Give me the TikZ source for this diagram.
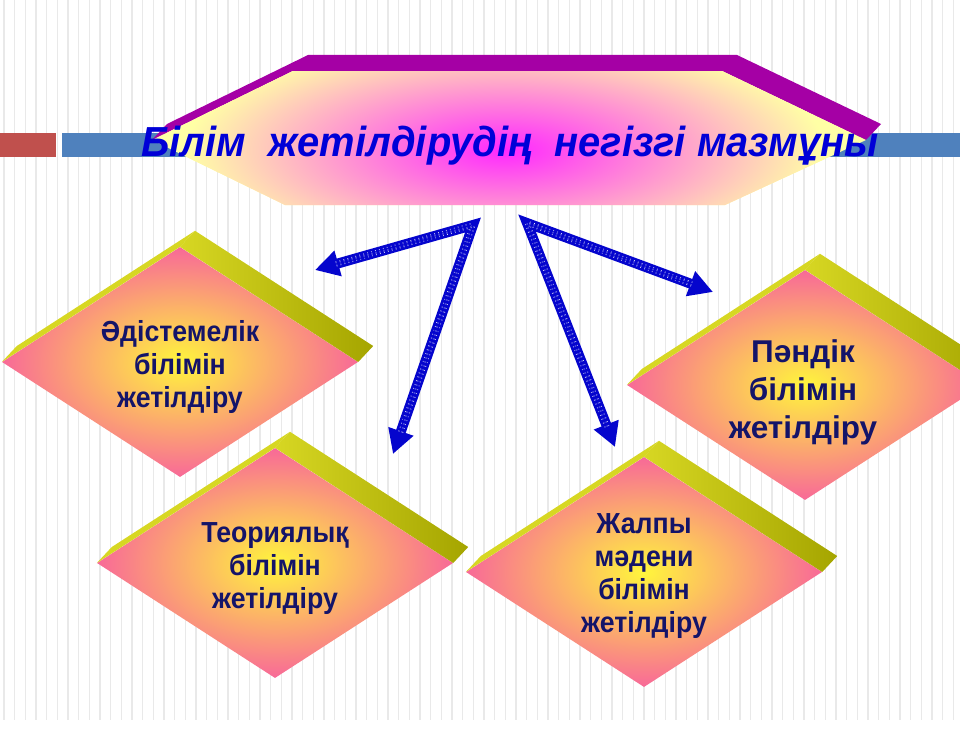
\documentclass[tikz,border=0pt]{standalone}
\usepackage{fontspec}
\setmainfont{Liberation Sans}
\newfontfamily\titlefont[FakeStretch=0.95]{Liberation Sans}
\newfontfamily\boxfont[FakeStretch=0.92]{Liberation Sans}
\usetikzlibrary{shapes.geometric,arrows.meta}

\definecolor{barred}{RGB}{192,80,77}
\definecolor{barblue}{RGB}{79,129,189}
\definecolor{hexyellow}{RGB}{255,255,165}
\definecolor{hexmagenta}{RGB}{255,40,255}
\definecolor{hexpurple}{RGB}{165,0,165}
\definecolor{facepink}{RGB}{248,105,152}
\definecolor{faceyellow}{RGB}{255,245,60}
\definecolor{rimolive}{RGB}{165,165,0}
\definecolor{rimyellow}{RGB}{215,215,35}
\definecolor{arrowblue}{RGB}{5,5,205}
\definecolor{titleblue}{RGB}{0,0,215}
\definecolor{textnavy}{RGB}{20,20,105}
\definecolor{stripegray}{RGB}{233,233,233}

\begin{document}
\begin{tikzpicture}[x=1pt,y=-1pt]
	\tikzstyle{stripe}=[draw=stripegray, line width=1.5pt]
	\tikzstyle{facet}=[diamond, minimum width=356pt, minimum height=230pt, inner sep=0pt, inner color=faceyellow, outer color=facepink]
	\tikzstyle{narrow label}=[text=textnavy, align=center, font=\boxfont\bfseries\fontsize{29}{33}\selectfont]
	\tikzstyle{wide label}=[text=textnavy, align=center, font=\bfseries\fontsize{31.5}{38}\selectfont]
	\tikzstyle{rim left}=[fill=rimyellow]
	\tikzstyle{rim right}=[left color=rimyellow, right color=rimolive]
	\tikzstyle{fat arrow}=[{Triangle[length=24pt,width=25pt]}-{Triangle[length=24pt,width=25pt]}, draw=arrowblue, line width=10pt,
		postaction={draw=white, line width=0.7pt, double=arrowblue, double distance=3.6pt, dash pattern=on 0.7pt off 3.4pt, shorten <=22pt, shorten >=22pt, -}]

	\useasboundingbox (0,0) rectangle (960,752);
	\clip (0,0) rectangle (960,752);

	% striped background
	\foreach \i in {0,...,89}
	\draw[stripe] (\i*10.667+4,0) -- (\i*10.667+4,720);

	% the bar across the slide
	\fill[barred] (0,133) rectangle (56,157);
	\fill[barblue] (62,133) rectangle (960,157);

	% the title plate
	\coordinate (h-w) at (152,140);
	\coordinate (h-nw) at (293,71);
	\coordinate (h-ne) at (722,71);
	\coordinate (h-e) at (866,140);
	\coordinate (h-se) at (725,205);
	\coordinate (h-sw) at (285,205);
	\fill[hexpurple] (h-w) -- (h-nw) -- (h-ne) -- (h-e) -- ([shift={(15,-16)}]h-e)
		-- ([shift={(15,-16)}]h-ne) -- ([shift={(15,-16)}]h-nw) -- ([shift={(15,-16)}]h-w) -- cycle;
	\fill[hexyellow] (h-w) -- (h-nw) -- (h-ne) -- (h-e) -- (h-se) -- (h-sw) -- cycle;
	\begin{scope}
		\clip (h-w) -- (h-nw) -- (h-ne) -- (h-e) -- (h-se) -- (h-sw) -- cycle;
		\shade[inner color=hexmagenta, outer color=hexyellow] (505,150) ellipse [x radius=320, y radius=115];
	\end{scope}
	\node[font=\titlefont\bfseries\itshape\fontsize{42}{42}\selectfont, text=titleblue, anchor=base] (title) at (510,156) {Білім\ \ жетілдірудің\ \ негізгі мазмұны};

	% the four faces
	\node[facet] (d1) at (180,362) {};
	\node[facet] (d2) at (275,563) {};
	\node[facet] (d3) at (805,385) {};
	\node[facet] (d4) at (644,572) {};

	% the rims on top of each face
	\foreach \d in {d1,d2,d3,d4} {
		\fill[rim left] (\d.west) -- (\d.north) -- ([shift={(15,-16)}]\d.north) -- ([shift={(15,-16)}]\d.west) -- cycle;
		\path[rim right] (\d.north) -- (\d.east) -- ([shift={(15,-16)}]\d.east) -- ([shift={(15,-16)}]\d.north) -- cycle;
	}

	% texts on the faces
	\node[narrow label] (d1-text) at ([yshift=-5pt]d1.center) {Әдістемелік\\білімін\\жетілдіру};
	\node[narrow label] (d2-text) at ([yshift=-6pt]d2.center) {Теориялық\\білімін\\жетілдіру};
	\node[wide label] (d3-text) at ([xshift=-2pt,yshift=-7pt]d3.center) {Пәндік\\білімін\\жетілдіру};
	\node[narrow label] (d4-text) at ([yshift=-4pt]d4.center) {Жалпы\\мәдени\\білімін\\жетілдіру};

	% arrows from the title
	\coordinate (fork-l) at (473,225);
	\coordinate (fork-r) at (527,223);
	\coordinate (tip-d1) at (315,270);
	\coordinate (tip-d2) at (393,454);
	\coordinate (tip-d3) at (713,292);
	\coordinate (tip-d4) at (615,447);
	\draw[fat arrow] (tip-d1) -- (fork-l) -- (tip-d2);
	\draw[fat arrow] (tip-d4) -- (fork-r) -- (tip-d3);
\end{tikzpicture}
\end{document}
